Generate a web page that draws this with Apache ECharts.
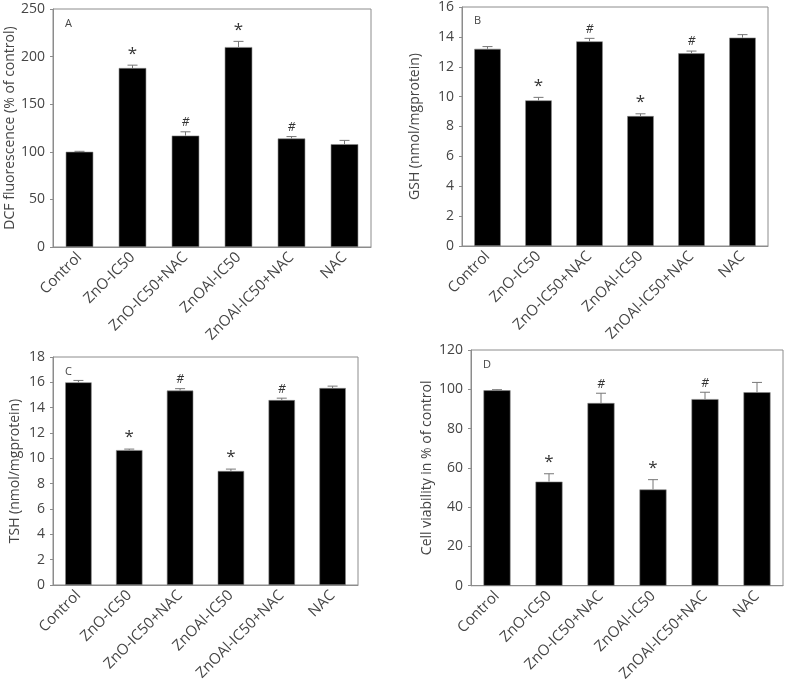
<!DOCTYPE html>
<html>
<head>
<meta charset="utf-8">
<script src="https://cdn.jsdelivr.net/npm/echarts@6/dist/echarts.min.js"></script>
<style>html,body{margin:0;padding:0;background:#fff;}#c{width:787px;height:684px;}</style>
</head>
<body>
<div id="c"></div>
<script>
const categories = ['Control', 'ZnO-IC50', 'ZnO-IC50+NAC', 'ZnOAl-IC50', 'ZnOAl-IC50+NAC', 'NAC'];
const marks = ['', '*', '#', '*', '#', ''];

const dcfValues = [100, 188, 117, 210, 114, 108];
const dcfErrors = [0.5, 3, 4, 6, 2, 4];
const gshValues = [13.2, 9.75, 13.7, 8.7, 12.9, 13.95];
const gshErrors = [0.15, 0.2, 0.2, 0.15, 0.15, 0.2];
const tshValues = [16.0, 10.65, 15.35, 9.0, 14.6, 15.55];
const tshErrors = [0.15, 0.08, 0.15, 0.15, 0.15, 0.15];
const viabValues = [99.5, 53, 93, 49, 95, 98.5];
const viabErrors = [0.3, 4, 5, 5, 3.5, 5];

const panels = [
  {letter: 'A', name: 'DCF fluorescence (% of control)', values: dcfValues, errors: dcfErrors, max: 250, interval: 50, nameGap: 31,
   grid: {left: 53, top: 9, width: 318, height: 238}},
  {letter: 'B', name: 'GSH (nmol/mgprotein)', values: gshValues, errors: gshErrors, max: 16, interval: 2, nameGap: 40,
   grid: {left: 462, top: 6, width: 306, height: 240}},
  {letter: 'C', name: 'TSH (nmol/mgprotein)', values: tshValues, errors: tshErrors, max: 18, interval: 2, nameGap: 31,
   grid: {left: 53, top: 357, width: 305, height: 228}},
  {letter: 'D', name: 'Cell viability in % of control', values: viabValues, errors: viabErrors, max: 120, interval: 20, nameGap: 37,
   grid: {left: 471, top: 350, width: 312, height: 238}}
];

const FONT = 'Open Sans';
const grids = [], xAxes = [], yAxes = [], series = [], graphics = [];
panels.forEach((p, i) => {
  grids.push(Object.assign({show: true, borderColor: '#8c8c8c', borderWidth: 1, backgroundColor: 'transparent'}, p.grid));
  xAxes.push({
    type: 'category', gridIndex: i, data: categories,
    axisLine: {lineStyle: {color: '#8c8c8c', width: 1}},
    axisTick: {alignWithLabel: true, length: 4, lineStyle: {color: '#8c8c8c'}},
    axisLabel: {rotate: 45, fontSize: 15, color: '#454545', fontFamily: FONT, margin: 8, interval: 0}
  });
  yAxes.push({
    type: 'value', gridIndex: i, min: 0, max: p.max, interval: p.interval,
    name: p.name, nameLocation: 'middle', nameGap: p.nameGap, nameRotate: 90,
    nameTextStyle: {fontSize: 14, color: '#454545', fontFamily: FONT},
    axisLine: {show: true, lineStyle: {color: '#8c8c8c', width: 1}},
    axisTick: {show: true, inside: false, length: 3, lineStyle: {color: '#8c8c8c'}},
    axisLabel: {fontSize: 14, color: '#454545', fontFamily: FONT, margin: 8},
    splitLine: {show: false}
  });
  series.push({
    type: 'bar', xAxisIndex: i, yAxisIndex: i, data: p.values, barWidth: '52%',
    itemStyle: {color: '#000', borderColor: '#888', borderWidth: 0.6}, silent: true
  });
  const errData = p.values.map((v, k) => [k, v, p.errors[k], marks[k]]);
  series.push({
    type: 'custom', xAxisIndex: i, yAxisIndex: i, data: errData, z: 5, silent: true,
    renderItem: function (params, api) {
      const base = api.coord([api.value(0), api.value(1)]);
      const top = api.coord([api.value(0), api.value(1) + api.value(2)]);
      const mk = errData[params.dataIndex][3];
      const children = [
        {type: 'line', shape: {x1: base[0], y1: base[1], x2: top[0], y2: top[1]}, style: {stroke: '#777', lineWidth: 1}},
        {type: 'line', shape: {x1: top[0] - 5, y1: top[1], x2: top[0] + 5, y2: top[1]}, style: {stroke: '#777', lineWidth: 1}}
      ];
      if (mk) {
        children.push({type: 'text', x: top[0], y: top[1] - 3,
          style: {text: mk, fontSize: mk === '*' ? 17 : 12, fontStyle: mk === '#' ? 'italic' : 'normal', fill: '#333',
            fontFamily: FONT, align: 'center', verticalAlign: 'bottom'}});
      }
      return {type: 'group', children: children};
    }
  });
  graphics.push({type: 'text', left: p.grid.left + 12, top: p.grid.top + 9,
    style: {text: p.letter, fontSize: 11, fill: '#454545', fontFamily: FONT}});
});

const chart = echarts.init(document.getElementById('c'), null, {renderer: 'canvas'});
chart.setOption({
  animation: false,
  grid: grids, xAxis: xAxes, yAxis: yAxes, series: series, graphic: graphics
});
</script>
</body>
</html>
